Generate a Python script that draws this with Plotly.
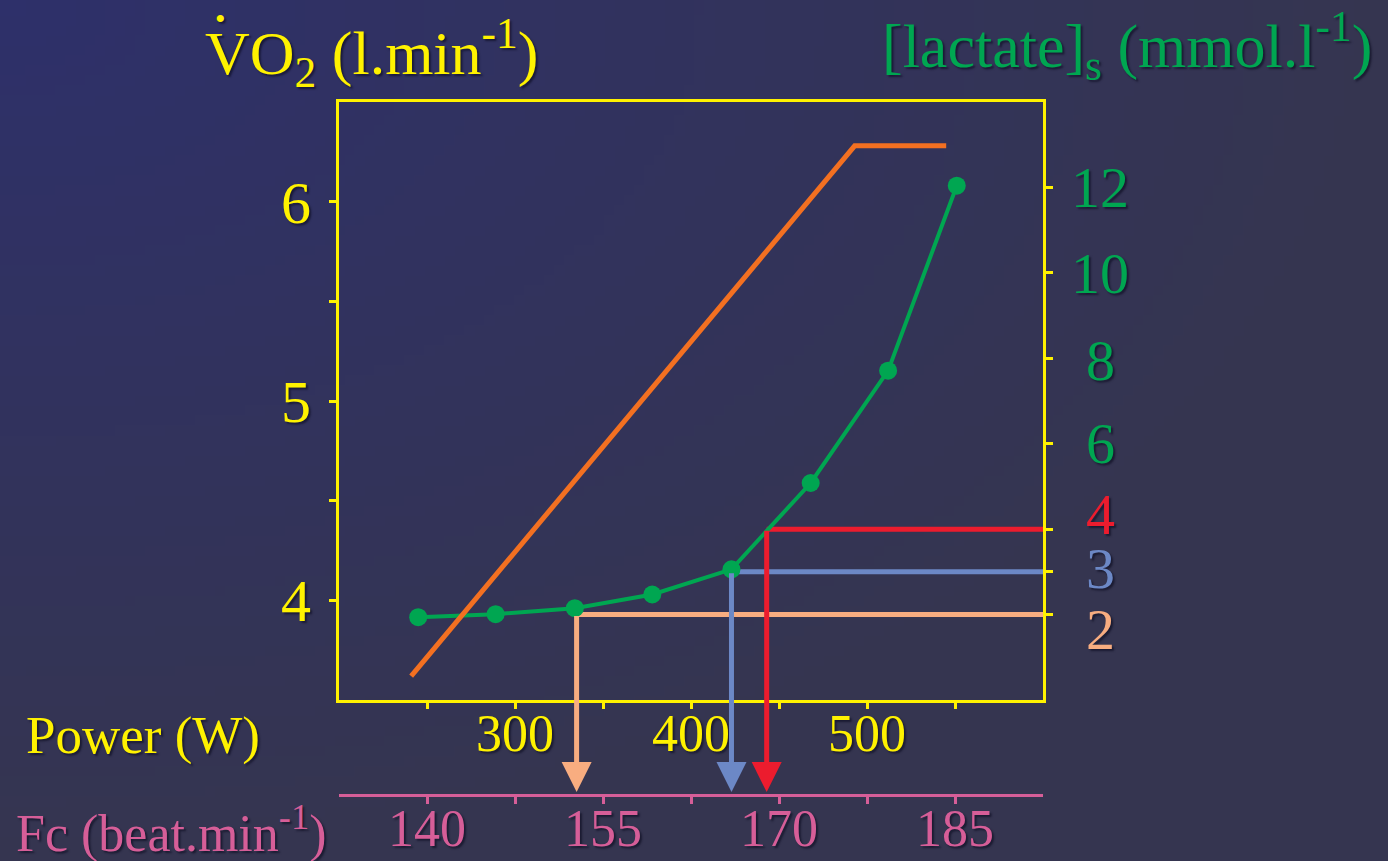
import numpy as np
import zlib, struct, base64
import plotly.graph_objects as go

# ---------------- data ----------------
lac_power = [245, 289, 334, 378, 423, 468, 512, 551]
lactate = [1.94, 2.01, 2.15, 2.47, 3.06, 5.08, 7.71, 12.04]

vo2_power = [241, 493, 545]
vo2 = [3.62, 6.28, 6.28]

thr_lactate = [2, 3, 4]
thr_power = [335, 423, 443]
thr_colors = ["#F8AD80", "#6C88C6", "#EC1C2E"]

power_ticks = [250, 300, 350, 400, 450, 500, 550]
power_ticktext = ["", "300", "", "400", "", "500", ""]
vo2_ticks = [4, 4.5, 5, 5.5, 6]
vo2_ticktext = ["4", "", "5", "", "6"]
lac_ticks = [2, 3, 4, 6, 8, 10, 12]
lac_label_vals = [12, 10, 8, 6, 4, 3, 2]
lac_label_colors = ["#00A651", "#00A651", "#00A651", "#00A651", "#EC1C2E", "#6C88C6", "#F8AD80"]
lac_label_shift = [0, -1, -2, 0, 15, 3, -15]   # px nudges so 4/3/2 do not collide
hr_ticks = [140, 147.5, 155, 162.5, 170, 177.5, 185]
hr_ticktext = ["140", "", "155", "", "170", "", "185"]

# ---------------- style ----------------
W, H = 1388, 861
ML, MR, MT, MB = 339, 345, 102, 66
PW, PH = W - ML - MR, H - MT - MB
FC_GAP = 95  # px between power axis and heart-rate axis
D0 = FC_GAP / PH

YEL = "#FFF200"
GRN = "#00A651"
ORG = "#F37021"
PINK = "#D65E98"
FONT = "Liberation Serif"
SHADOW = "2px 2px 2px rgba(10,10,30,0.6)"

LAC_RANGE = [0, 14]
VO2_RANGE = [3.5, 6.5]
POW_RANGE = [200, 600]
HR_RANGE = [132.5, 192.5]


def px_x(px):
    return (px - ML) / PW


def px_y(py):
    return (H - MB - py) / PH


# gradient background image
def png_uri(arr):
    h, w, _ = arr.shape
    raw = b"".join(b"\x00" + arr[y].tobytes() for y in range(h))

    def chunk(tag, data):
        return (struct.pack(">I", len(data)) + tag + data
                + struct.pack(">I", zlib.crc32(tag + data) & 0xFFFFFFFF))

    png = (b"\x89PNG\r\n\x1a\n"
           + chunk(b"IHDR", struct.pack(">IIBBBBB", w, h, 8, 2, 0, 0, 0))
           + chunk(b"IDAT", zlib.compress(raw))
           + chunk(b"IEND", b""))
    return "data:image/png;base64," + base64.b64encode(png).decode()


gw, gh = 139, 86
gx, gy = np.meshgrid(np.linspace(0, 1, gw), np.linspace(0, 1, gh))
t = np.clip(np.sqrt(gx ** 2 + gy ** 2), 0, 1)[..., None]
c0 = np.array([46, 48, 106], float)
c1 = np.array([53, 53, 80], float)
grad = (c0 * (1 - t) + c1 * t).round().astype(np.uint8)
bg_uri = png_uri(grad)

fig = go.Figure()

# lactate (primary y, right side)
fig.add_trace(go.Scatter(
    x=lac_power, y=lactate, mode="lines+markers", xaxis="x", yaxis="y",
    line=dict(color=GRN, width=4), marker=dict(color=GRN, size=18),
    showlegend=False, hoverinfo="skip"))

# VO2 (overlay y2, left side)
fig.add_trace(go.Scatter(
    x=vo2_power, y=vo2, mode="lines", xaxis="x", yaxis="y2",
    line=dict(color=ORG, width=5), showlegend=False, hoverinfo="skip"))

# dummy trace so the heart-rate axis is drawn
fig.add_trace(go.Scatter(
    x=[hr_ticks[0]], y=[None], mode="markers", xaxis="x2", yaxis="y",
    showlegend=False, hoverinfo="skip"))

# threshold lines and arrows
ppu = PH * (1 - D0) / (LAC_RANGE[1] - LAC_RANGE[0])
tip = LAC_RANGE[0] - (FC_GAP - 3) / ppu
for L, P, c in zip(thr_lactate, thr_power, thr_colors):
    fig.add_shape(type="line", xref="x", yref="y", x0=P, x1=POW_RANGE[1],
                  y0=L, y1=L, line=dict(color=c, width=5), layer="below")
    fig.add_annotation(x=P, y=tip, xref="x", yref="y", ax=P, ay=L,
                       axref="x", ayref="y", text="", showarrow=True,
                       arrowhead=2, arrowsize=1.2, arrowwidth=5,
                       arrowcolor=c, standoff=0, startstandoff=0)

# right-hand lactate labels
for v, c, s in zip(lac_label_vals, lac_label_colors, lac_label_shift):
    fig.add_annotation(x=1, xref="paper", xshift=57, y=v, yref="y", yshift=s,
                       text=str(v), showarrow=False, xanchor="center",
                       yanchor="middle",
                       font=dict(family=FONT, size=58, color=c, shadow=SHADOW))

# titles
fig.add_annotation(x=px_x(203), y=px_y(53), xref="paper", yref="paper",
                   text="VO<sub>2</sub> (l.min<sup>-1</sup>)", showarrow=False,
                   xanchor="left", yanchor="middle",
                   font=dict(family=FONT, size=62, color=YEL, shadow=SHADOW))
fig.add_annotation(x=px_x(220), y=px_y(0), xref="paper", yref="paper",
                   text="•", showarrow=False, xanchor="center", yanchor="top",
                   font=dict(family=FONT, size=30, color=YEL, shadow=SHADOW))
fig.add_annotation(x=px_x(880), y=px_y(45), xref="paper", yref="paper",
                   text="[lactate]<sub>s</sub> (mmol.l<sup>-1</sup>)", showarrow=False,
                   xanchor="left", yanchor="middle",
                   font=dict(family=FONT, size=62, color=GRN, shadow=SHADOW))
fig.add_annotation(x=px_x(24), y=px_y(735), xref="paper", yref="paper",
                   text="Power (W)", showarrow=False,
                   xanchor="left", yanchor="middle",
                   font=dict(family=FONT, size=53, color=YEL, shadow=SHADOW))
fig.add_annotation(x=px_x(14), y=px_y(830), xref="paper", yref="paper",
                   text="Fc (beat.min<sup>-1</sup>)", showarrow=False,
                   xanchor="left", yanchor="middle",
                   font=dict(family=FONT, size=52, color=PINK, shadow=SHADOW))

axis_common = dict(showgrid=False, zeroline=False, ticks="outside",
                   tickwidth=3, showline=True, linewidth=3, automargin=False)

fig.update_layout(
    width=W, height=H,
    margin=dict(l=ML, r=MR, t=MT, b=MB, autoexpand=False),
    paper_bgcolor="#33345A", plot_bgcolor="rgba(0,0,0,0)",
    showlegend=False,
    images=[dict(source=bg_uri, xref="paper", yref="paper",
                 x=-ML / PW, y=1 + MT / PH, sizex=W / PW, sizey=H / PH,
                 xanchor="left", yanchor="top", sizing="stretch",
                 layer="below")],
    xaxis=dict(axis_common, range=POW_RANGE, anchor="y", mirror=True,
               linecolor=YEL, tickcolor=YEL, ticklen=6, ticklabelstandoff=-20,
               tickvals=power_ticks, ticktext=power_ticktext,
               tickfont=dict(family=FONT, size=52, color=YEL, shadow=SHADOW)),
    xaxis2=dict(axis_common, range=HR_RANGE, overlaying="x", anchor="free",
                position=0, side="bottom", linecolor=PINK, tickcolor=PINK,
                ticklen=7, ticklabelstandoff=-20,
                tickvals=hr_ticks, ticktext=hr_ticktext,
                tickfont=dict(family=FONT, size=52, color=PINK, shadow=SHADOW)),
    yaxis=dict(axis_common, range=LAC_RANGE, domain=[D0, 1], side="right",
               anchor="x", linecolor=YEL, tickcolor=YEL, ticklen=7,
               tickvals=lac_ticks, showticklabels=False),
    yaxis2=dict(axis_common, range=VO2_RANGE, overlaying="y", side="left",
                anchor="x", linecolor=YEL, tickcolor=YEL, ticklen=7,
                ticklabelstandoff=6,
                tickvals=vo2_ticks, ticktext=vo2_ticktext,
                tickfont=dict(family=FONT, size=60, color=YEL, shadow=SHADOW)),
)

fig.write_html("out.html")
